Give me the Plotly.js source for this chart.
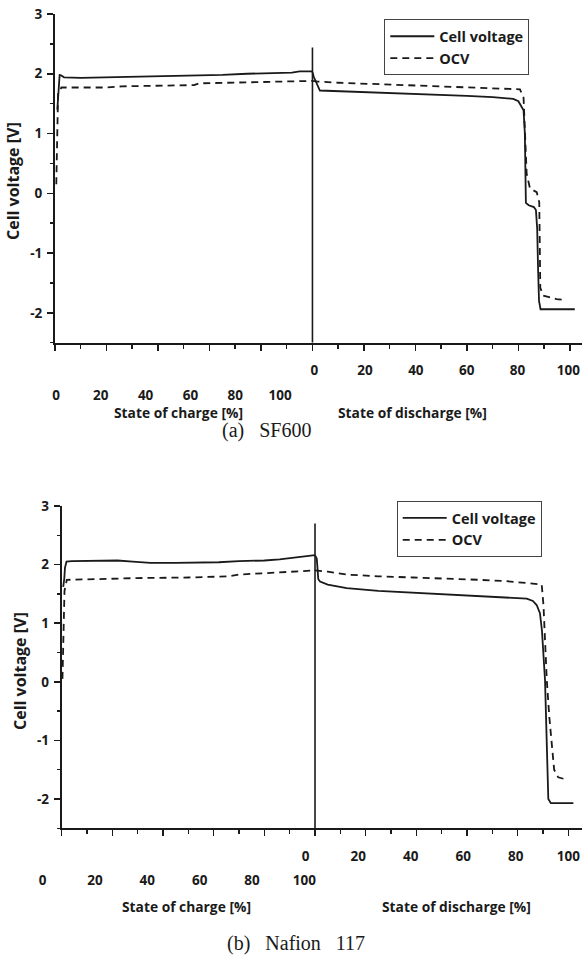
<!DOCTYPE html>
<html>
<head>
<meta charset="utf-8">
<script src="https://cdn.plot.ly/plotly-3.0.1.min.js"></script>
<style>html,body{margin:0;padding:0;background:#fff;}#chart{width:582px;height:956px;}</style>
</head>
<body>
<div id="chart"></div>
<script>
// ---------- tick labels ----------
const chargeTicks = [0, 20, 40, 60, 80, 100];
const dischargeTicks = [0, 20, 40, 60, 80, 100];
const voltTicks = [-2, -1, 0, 1, 2, 3];
const seriesNames = ['Cell voltage', 'OCV'];

// ---------- (a) SF600 : charge ----------
const socCellA = [0.9, 1.3, 1.8, 2.5, 3.5, 10, 21, 30, 43.5, 55, 65, 74.6, 85, 92, 95, 100];
const cellChargeA = [1.4, 1.75, 1.98, 1.97, 1.94, 1.93, 1.94, 1.94, 1.96, 1.97, 1.98, 2.0, 2.01, 2.02, 2.04, 2.04];
const socOcvA = [0.5, 0.7, 0.9, 1.2, 2.5, 10, 20, 26, 40, 54, 56, 70, 80, 92, 100];
const ocvChargeA = [0.15, 0.7, 1.35, 1.68, 1.77, 1.77, 1.77, 1.79, 1.80, 1.81, 1.84, 1.85, 1.86, 1.87, 1.88];
// ---------- (a) SF600 : discharge ----------
const sodCellA = [0, 0.5, 2.9, 10, 20, 30, 40, 50, 60, 70, 78, 80, 82, 82.5, 82.9, 84, 86, 86.8, 87.3, 87.6, 88, 88.6, 95, 101.9];
const cellDisA = [2.03, 1.95, 1.72, 1.71, 1.69, 1.68, 1.66, 1.65, 1.63, 1.61, 1.58, 1.54, 1.39, 1.0, -0.16, -0.2, -0.23, -0.28, -0.6, -1.2, -1.8, -1.94, -1.94, -1.94];
const sodOcvA = [0, 2, 10, 30, 50, 65, 80.6, 82, 82.5, 83.2, 84.5, 87.1, 88.1, 88.3, 88.5, 89.6, 94.8, 96.8];
const ocvDisA = [1.88, 1.87, 1.85, 1.82, 1.79, 1.77, 1.74, 1.6, 1.0, 0.33, 0.08, 0.02, -0.15, -1.0, -1.58, -1.71, -1.77, -1.78];

// ---------- (b) Nafion 117 : charge ----------
const socCellB = [0.6, 1.0, 1.3, 1.9, 4, 12, 22, 28, 35, 45, 55, 62, 70, 80, 86, 94, 100];
const cellChargeB = [1.62, 1.75, 1.95, 2.05, 2.06, 2.07, 2.07, 2.05, 2.03, 2.03, 2.03, 2.04, 2.06, 2.07, 2.09, 2.13, 2.16];
const socOcvB = [0.3, 0.6, 1.1, 2, 10, 15, 30, 50, 60, 66, 70, 80, 94, 100];
const ocvChargeB = [0.05, 0.6, 1.55, 1.74, 1.75, 1.76, 1.77, 1.78, 1.79, 1.8, 1.83, 1.85, 1.89, 1.9];
// ---------- (b) Nafion 117 : discharge ----------
const sodCellB = [0, 0.7, 1.3, 2, 5, 12.5, 25, 38.8, 50, 65, 75, 83.6, 86, 87.5, 88.8, 89.6, 90.8, 91.4, 92.1, 93.1, 102];
const cellDisB = [2.16, 2.1, 1.75, 1.71, 1.66, 1.6, 1.55, 1.52, 1.49, 1.46, 1.44, 1.42, 1.38, 1.31, 1.17, 0.87, 0.03, -1.0, -2.0, -2.07, -2.07];
const sodOcvB = [0, 5, 12.5, 25, 38.8, 55, 65, 75, 86.2, 89.5, 90.2, 90.8, 91.5, 92.5, 93.5, 94.4, 96, 97.4, 99.4];
const ocvDisB = [1.9, 1.88, 1.83, 1.8, 1.78, 1.76, 1.74, 1.72, 1.68, 1.66, 1.3, 0.6, 0.03, -0.6, -1.12, -1.5, -1.63, -1.65, -1.67];

// ---------- styling ----------
const INK = '#1a1a1a';
const W = 582, H = 956;
const FAM = 'Open Sans, sans-serif';
const tickFont = {family: FAM, size: 13.5, color: INK, weight: 700};
const solid = {color: INK, width: 1.8};
const dashed = {color: INK, width: 1.8, dash: '7px,5px'};
const px = v => v / W;
const py = v => 1 - v / H;

function tr(x, y, xa, ya, line, nameIdx, legend, show) {
  return {type: 'scatter', mode: 'lines', x: x, y: y, xaxis: xa, yaxis: ya,
    line: line, name: seriesNames[nameIdx], legend: legend, showlegend: show,
    legendgroup: legend + nameIdx, hoverinfo: 'skip'};
}
// empty carrier so the label-only axes get drawn
function carrier(xa, ya) {
  return {type: 'scatter', mode: 'lines', x: [], y: [], xaxis: xa, yaxis: ya, showlegend: false, hoverinfo: 'skip'};
}

const data = [
  tr(socCellA, cellChargeA, 'x', 'y', solid, 0, 'legend', true),
  tr(socOcvA, ocvChargeA, 'x', 'y', dashed, 1, 'legend', true),
  tr(sodCellA, cellDisA, 'x2', 'y', solid, 0, 'legend', false),
  tr(sodOcvA, ocvDisA, 'x2', 'y', dashed, 1, 'legend', false),
  tr(socCellB, cellChargeB, 'x5', 'y2', solid, 0, 'legend2', true),
  tr(socOcvB, ocvChargeB, 'x5', 'y2', dashed, 1, 'legend2', true),
  tr(sodCellB, cellDisB, 'x6', 'y2', solid, 0, 'legend2', false),
  tr(sodOcvB, ocvDisB, 'x6', 'y2', dashed, 1, 'legend2', false),
  carrier('x3', 'y'), carrier('x4', 'y'), carrier('x7', 'y2'), carrier('x8', 'y2')
];

function tickAxis(domain, range, anchor) {
  return {domain: domain, range: range, anchor: anchor, showline: true, linewidth: 2, linecolor: INK,
    ticks: 'outside', ticklen: 6, tickwidth: 1.5, tickcolor: INK, tick0: 0, dtick: 20,
    minor: {dtick: 10, ticks: 'outside', ticklen: 4, tickwidth: 1.5, tickcolor: INK},
    showticklabels: false, showgrid: false, zeroline: false, fixedrange: true};
}
function dataAxis(over, range, anchor) {
  return {overlaying: over, anchor: anchor, range: range, visible: false, fixedrange: true};
}
function labelAxis(range, anchor, vals, standoff) {
  return {domain: [0, 1], range: range, anchor: anchor, showline: false, ticks: '',
    tickmode: 'array', tickvals: vals, ticktext: vals.map(String), tickfont: tickFont,
    ticklabelstandoff: standoff, showgrid: false, zeroline: false, fixedrange: true};
}
function yAxis(domain, anchor) {
  return {domain: domain, range: [-2.5, 3], anchor: anchor, showline: true, linewidth: 2, linecolor: INK,
    ticks: 'outside', ticklen: 6, tickwidth: 1.5, tickcolor: INK,
    tickmode: 'array', tickvals: voltTicks, ticktext: voltTicks.map(String),
    minor: {tickmode: 'linear', tick0: 0, dtick: 0.5, ticks: 'outside', ticklen: 3, tickwidth: 1.5, tickcolor: INK},
    tickfont: tickFont, ticklabelstandoff: 2, showgrid: false, zeroline: false, fixedrange: true};
}

function ann(text, x, y, font, angle) {
  return {text: text, xref: 'paper', yref: 'paper', x: px(x), y: py(y), xanchor: 'center', yanchor: 'middle',
    showarrow: false, font: font, textangle: angle || 0};
}
const titleFont = {family: FAM, size: 13.8, color: INK, weight: 700};
const yTitleFont = {family: FAM, size: 16, color: INK, weight: 700};
const capFont = {family: 'Liberation Serif, Times New Roman, serif', size: 20, color: INK};
const legFont = {family: FAM, size: 14.5, color: INK, weight: 700};

const layout = {
  width: W, height: H, margin: {l: 0, r: 0, t: 0, b: 0},
  paper_bgcolor: '#fff', plot_bgcolor: 'rgba(0,0,0,0)',
  xaxis: tickAxis([px(55), 1], [0, 204.7], 'y'),
  xaxis2: dataAxis('x', [-100, 104.7], 'y'),
  xaxis3: labelAxis([-25, 234.8], 'y', chargeTicks, 43),
  xaxis4: labelAxis([-123.7, 105.4], 'y', dischargeTicks, 18),
  yaxis: yAxis([py(342.7), py(14)], 'x'),
  xaxis5: tickAxis([px(61.7), 1], [0, 205.4], 'y2'),
  xaxis6: dataAxis('x5', [-100, 105.4], 'y2'),
  xaxis7: labelAxis([-16.32, 206.16], 'y2', chargeTicks, 42),
  xaxis8: labelAxis([-116.4, 105.2], 'y2', dischargeTicks, 18),
  yaxis2: yAxis([py(828.3), py(506)], 'x5'),
  legend: {x: px(384.3), y: py(19.3), xanchor: 'left', yanchor: 'top', bordercolor: '#444', borderwidth: 1,
    bgcolor: '#fff', font: legFont, itemwidth: 44, tracegroupgap: 0, traceorder: 'grouped'},
  legend2: {x: px(396.7), y: py(501), xanchor: 'left', yanchor: 'top', bordercolor: '#444', borderwidth: 1,
    bgcolor: '#fff', font: legFont, itemwidth: 44, tracegroupgap: 0, traceorder: 'grouped'},
  shapes: [
    {type: 'line', xref: 'x2', yref: 'y', x0: 0, x1: 0, y0: -2.5, y1: 2.44, line: {color: INK, width: 1.6}},
    {type: 'line', xref: 'x6', yref: 'y2', x0: 0, x1: 0, y0: -2.5, y1: 2.70, line: {color: INK, width: 1.6}}
  ],
  annotations: [
    ann('State of charge [%]', 178, 412, titleFont),
    ann('State of discharge [%]', 412, 412, titleFont),
    ann('(a)\u00a0\u00a0\u00a0SF600', 266, 430, capFont),
    ann('Cell voltage [V]', 13, 181, yTitleFont, -90),
    ann('State of charge [%]', 186.7, 906, titleFont),
    ann('State of discharge [%]', 456.7, 906, titleFont),
    ann('(b)\u00a0\u00a0 Nafion\u00a0\u00a0 117', 296, 943, capFont),
    ann('Cell voltage [V]', 20, 671, yTitleFont, -90)
  ],
  showlegend: true
};

Plotly.newPlot('chart', data, layout, {staticPlot: true, displayModeBar: false});
</script>
</body>
</html>
